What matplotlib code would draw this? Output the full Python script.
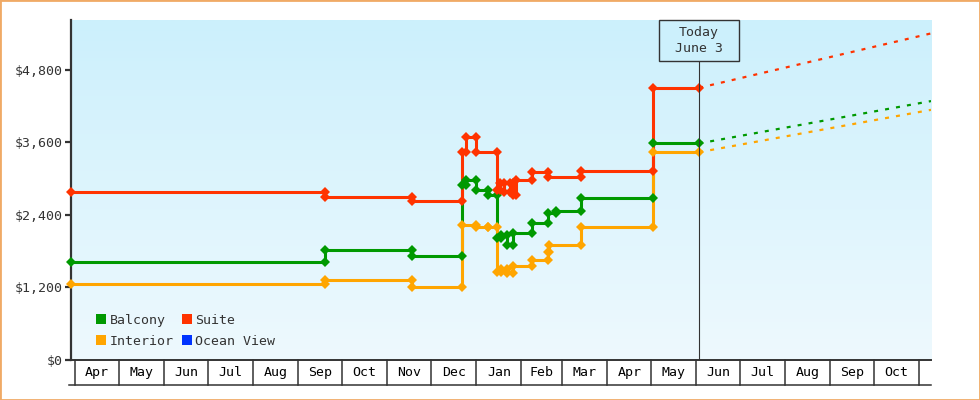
import pandas as pd
import numpy as np
import matplotlib
matplotlib.use("Agg")
import matplotlib.pyplot as plt
import matplotlib.dates as mdates
from matplotlib.colors import LinearSegmentedColormap
from matplotlib.lines import Line2D
from matplotlib.patches import Rectangle
from matplotlib.transforms import blended_transform_factory

# price history (date of change, new price)
balcony_dates = ["2024-03-29", "2024-09-19", "2024-11-18", "2024-12-22", "2024-12-25",
                 "2025-01-01", "2025-01-09", "2025-01-15", "2025-01-18", "2025-01-22",
                 "2025-01-26", "2025-02-08", "2025-02-19", "2025-02-25", "2025-03-14",
                 "2025-05-02"]
balcony_prices = [1620, 1820, 1715, 2890, 2980, 2815, 2730, 2020, 2070, 1900,
                  2100, 2260, 2430, 2465, 2675, 3585]

suite_dates = ["2024-03-29", "2024-09-19", "2024-11-18", "2024-12-22", "2024-12-25",
               "2025-01-01", "2025-01-15", "2025-01-17", "2025-01-20", "2025-01-24",
               "2025-01-26", "2025-01-28", "2025-02-08", "2025-02-19", "2025-03-14",
               "2025-05-02"]
suite_prices = [2780, 2700, 2630, 3440, 3690, 3440, 2810, 2930, 2780, 2930,
                2730, 2980, 3110, 3030, 3135, 4505]

interior_dates = ["2024-03-29", "2024-09-19", "2024-11-18", "2024-12-22", "2025-01-01",
                  "2025-01-09", "2025-01-15", "2025-01-18", "2025-01-22", "2025-01-26",
                  "2025-02-08", "2025-02-19", "2025-02-20", "2025-03-14", "2025-05-02"]
interior_prices = [1260, 1325, 1210, 2235, 2205, 2205, 1460, 1500, 1440, 1555,
                   1655, 1790, 1900, 2205, 3440]

ocean_dates = []
ocean_prices = []

today = "2025-06-03"
proj_end = "2025-11-09"
proj_balcony = 4285
proj_suite = 5405
proj_interior = 4140

x_start = "2024-03-29"
y_ticks = [0, 1200, 2400, 3600, 4800]
y_top = 5627

colors = {"Balcony": "#009900", "Suite": "#ff3300",
          "Interior": "#ffa500", "Ocean View": "#0033ff"}
ink = "#333333"
font = "DejaVu Sans Mono"
fs = 9.5

plt.rcParams["font.family"] = font

fig = plt.figure(figsize=(9.8, 4.0), dpi=100)
ax = fig.add_axes([71 / 980, 40 / 400, 860 / 980, 340 / 400])

t0 = mdates.date2num(pd.Timestamp(x_start))
t1 = mdates.date2num(pd.Timestamp(proj_end))
tt = mdates.date2num(pd.Timestamp(today))

# background gradient
cmap = LinearSegmentedColormap.from_list("bg", ["#eef9fe", "#ccf0fc"])
grad = np.linspace(0, 1, 256).reshape(-1, 1)
ax.imshow(grad, extent=[0, 1, 0, 1], transform=ax.transAxes, origin="lower",
          cmap=cmap, aspect="auto", zorder=0, interpolation="bilinear")


def draw_series(dates, prices, proj, color):
    if not dates:
        return
    d = [mdates.date2num(pd.Timestamp(s)) for s in dates]
    ax.step(d + [tt], prices + [prices[-1]], where="post", color=color,
            lw=2.2, zorder=3, solid_joinstyle="miter")
    mx = [d[0]]
    my = [prices[0]]
    for i in range(1, len(d)):
        mx += [d[i], d[i]]
        my += [prices[i - 1], prices[i]]
    mx.append(tt)
    my.append(prices[-1])
    ax.plot(mx, my, ls="none", marker="D", ms=5.0, color=color, mew=0, zorder=4,
            clip_on=False)
    ax.plot([tt, t1], [prices[-1], proj], color=color, lw=1.6,
            ls=(0, (1.8, 3.2)), zorder=3)


draw_series(balcony_dates, balcony_prices, proj_balcony, colors["Balcony"])
draw_series(interior_dates, interior_prices, proj_interior, colors["Interior"])
draw_series(suite_dates, suite_prices, proj_suite, colors["Suite"])
draw_series(ocean_dates, ocean_prices, None, colors["Ocean View"])

ax.set_xlim(t0, t1)
ax.set_ylim(0, y_top)

# axes styling
for s in ["top", "right"]:
    ax.spines[s].set_visible(False)
ax.spines["left"].set_color(ink)
ax.spines["left"].set_linewidth(1.6)
ax.spines["bottom"].set_color(ink)
ax.spines["bottom"].set_linewidth(1.4)
ax.set_yticks(y_ticks)
ax.set_yticklabels([f"${v:,}" for v in y_ticks])
ax.tick_params(axis="y", length=4, width=1.6, color=ink, labelcolor=ink,
               labelsize=fs, pad=2)
ax.set_xticks([])

# month boxes under the axis
trans = blended_transform_factory(ax.transData, ax.transAxes)
h = 25 / 340
bounds = pd.date_range("2024-04-01", "2025-11-01", freq="MS")
bnum = [mdates.date2num(b) for b in bounds]
for b in bnum:
    ax.plot([b, b], [0, -h], transform=trans, color=ink, lw=1.1, clip_on=False)
ax.plot([-0.002, 1], [-h, -h], transform=ax.transAxes, color=ink, lw=1.1,
        clip_on=False)
for i in range(len(bnum) - 1):
    ax.text((bnum[i] + bnum[i + 1]) / 2, -h / 2, bounds[i].strftime("%b"),
            transform=trans, ha="center", va="center", fontsize=fs, color="black")

# today marker
box_top = 1.0
box_h = 41 / 340
ax.plot([tt, tt], [0, box_top - box_h], transform=trans, color=ink, lw=0.8, zorder=5)
tx = (tt - t0) / (t1 - t0)
bw = 80 / 860
ax.add_patch(Rectangle((tx - bw / 2, box_top - box_h), bw, box_h, transform=ax.transAxes,
                       fc="#ccf0fc", ec=ink, lw=1.0, zorder=6, clip_on=False))
ax.text(tx, box_top - box_h / 2, "Today\nJune 3", transform=ax.transAxes,
        ha="center", va="center", fontsize=fs, color=ink, zorder=7, linespacing=1.35)

# legend
names = ["Balcony", "Interior", "Suite", "Ocean View"]
handles = [Line2D([], [], ls="none", marker="s", ms=7.2, mew=0, color=colors[n])
           for n in names]
leg = ax.legend(handles, names, ncol=2, loc="lower left", bbox_to_anchor=(0.018, 0.009),
                frameon=False, fontsize=fs, handlelength=0.8, handletextpad=0.25,
                columnspacing=0.6, labelspacing=0.58, borderpad=0.2)
for t in leg.get_texts():
    t.set_color(ink)

fig.patches.append(Rectangle((0, 0), 1, 1, transform=fig.transFigure, fill=False,
                             ec="#f0aa66", lw=2.0))

fig.savefig("out.png", dpi=100)
